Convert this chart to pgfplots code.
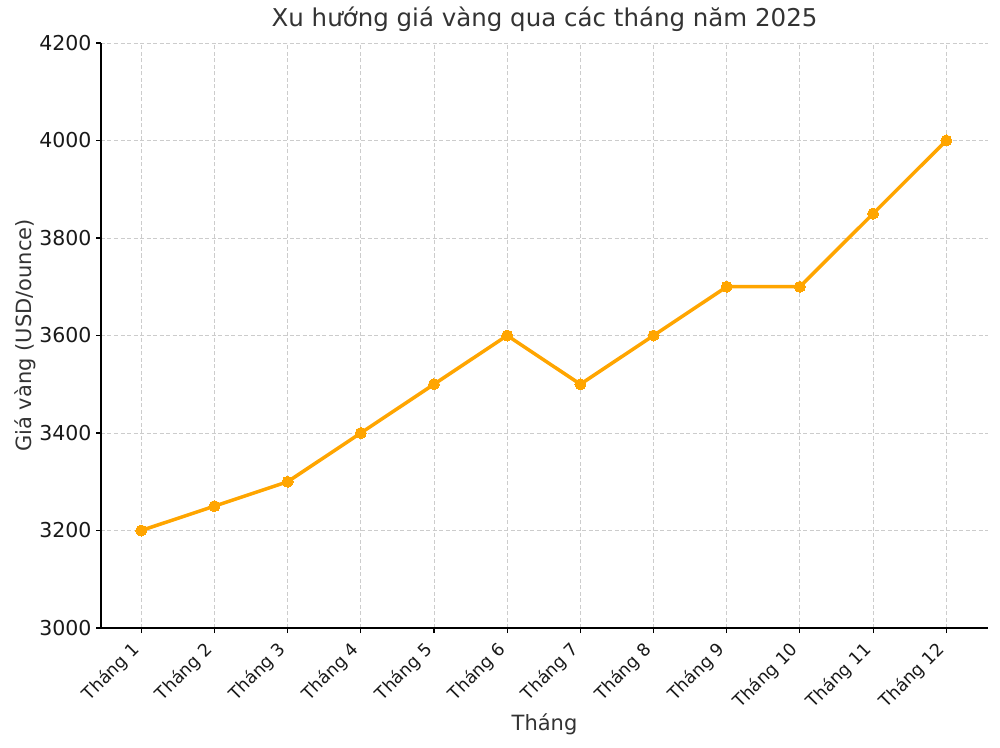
\documentclass[border=0pt]{standalone}
\usepackage{fontspec}
\setmainfont{DejaVu Sans}
\usepackage{pgfplots}
\pgfplotsset{compat=1.18}
\definecolor{goldline}{HTML}{FFA500}
\definecolor{gridgray}{HTML}{CCCCCC}
\definecolor{textgray}{HTML}{333333}

\begin{document}
\begin{tikzpicture}
  \begin{axis}[
    name=main,
    scale only axis,
    width=887pt,
    height=585pt,
    xmin=0.45, xmax=12.57,
    ymin=3000, ymax=4200,
    ytick={3000,3200,...,4200},
    xtick={1,...,12},
    xticklabels={Tháng 1,Tháng 2,Tháng 3,Tháng 4,Tháng 5,Tháng 6,Tháng 7,Tháng 8,Tháng 9,Tháng 10,Tháng 11,Tháng 12},
    axis lines*=left,
    axis line style={black, line width=1.1pt},
    tick align=outside,
    major tick length=5pt,
    tick style={black, line width=1.1pt},
    xmajorgrids=true,
    ymajorgrids=true,
    grid style={gridgray, line width=0.9pt, dash pattern=on 4pt off 2.5pt},
    /pgf/number format/assume math mode=true,
    /pgf/number format/1000 sep={},
    yticklabel style={font=\fontsize{20.5}{24}\selectfont, text=black!90, xshift=-1pt},
    % shifts are applied in the rotated frame
    xticklabel style={font=\fontsize{17.5}{21}\selectfont, text=black!90, rotate=45, anchor=north east, inner sep=0pt, xshift=-13pt, yshift=2.5pt},
    title={Xu hướng giá vàng qua các tháng năm 2025},
    title style={font=\fontsize{24.5}{29}\selectfont, text=textgray, at={(axis description cs:0.5,1)}, anchor=base, yshift=10pt},
    xlabel={Tháng},
    xlabel style={font=\fontsize{21}{25}\selectfont, text=textgray, at={(axis description cs:0.5,0)}, anchor=base, yshift=-102pt},
    ylabel={Giá vàng (USD/ounce)},
    ylabel style={font=\fontsize{21}{25}\selectfont, text=textgray, at={(axis description cs:0,0.5)}, anchor=center, yshift=75.5pt},
    clip=false,
  ]
  % gold price by month
  \addplot[goldline, line width=3.5pt, mark=*, mark size=5.5pt, mark options={fill=goldline, draw=goldline, line width=0pt}] coordinates {
    (1, 3200)
    (2, 3250)
    (3, 3300)
    (4, 3400)
    (5, 3500)
    (6, 3600)
    (7, 3500)
    (8, 3600)
    (9, 3700)
    (10, 3700)
    (11, 3850)
    (12, 4000)
  };
  \end{axis}
  \pgfresetboundingbox
  \path ([xshift=-101pt, yshift=-119pt]main.south west) rectangle ([xshift=12pt, yshift=43pt]main.north east);
\end{tikzpicture}
\end{document}
